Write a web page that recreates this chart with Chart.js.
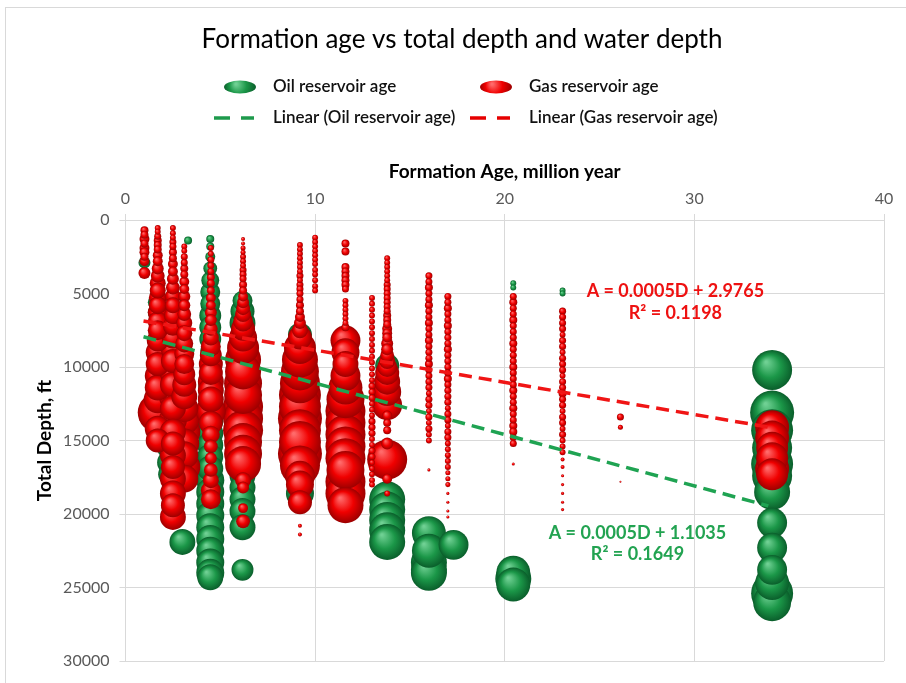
<!DOCTYPE html>
<html>
<head>
<meta charset="utf-8">
<script src="https://cdn.jsdelivr.net/npm/chart.js@4.4.1/dist/chart.umd.min.js"></script>
<style>
  html, body { margin: 0; padding: 0; background: #fff; }
  #wrap { position: relative; width: 906px; height: 683px; }
</style>
</head>
<body>
<div id="wrap"><canvas id="chart"></canvas></div>
<script>
// formation age (million years) of each well column, and [total depth ft, water depth ft] per well
const gasAges = [1.0, 1.7, 2.5, 3.1, 4.5, 6.2, 9.2, 10.0, 11.6, 13.0, 13.8, 16.0, 17.0, 20.45, 23.05, 26.1, 34.1];
const gasWells = [
  [[700,400],[1000,400],[1300,620],[1600,400],[1900,620],[2200,620],[2500,400],[2800,620],[3600,900]],
  [[550,220],[800,220],[1100,310],[1400,400],[1700,400],[2000,400],[2400,620],[2800,620],[3300,900],[3800,1200],[4300,1600],[4800,1600],[5300,2000],[5800,2000],[6300,2500],[6900,2500],[7500,2500],[8200,3000],[9000,3600],[9800,3600],[10600,4200],[11400,4200],[12200,4900],[13100,10000],[14200,4200],[15000,3600]],
  [[550,220],[900,220],[1200,220],[1500,310],[1800,310],[2200,400],[2600,400],[3000,620],[3500,620],[4000,900],[4600,1200],[5200,1600],[5800,1600],[6500,2000],[7200,2500],[8000,3000],[8800,3600],[9600,3600],[10400,4200],[11200,4200],[12000,4900],[12800,4200],[13600,4900],[14400,4200],[15200,3600],[16000,4200],[16800,3600],[17600,4200],[18600,4200],[19400,3600],[20200,4200]],
  [[1800,220],[2100,220],[2500,310],[2900,310],[3300,400],[3700,400],[4200,620],[4700,620],[5200,900],[5800,900],[6400,1200],[7000,1600],[7700,1600],[8400,2000],[9100,2500],[9800,2500],[10500,3000],[11200,3600],[12000,4200],[12800,4900],[13600,5600],[14400,6400],[15200,5600],[16000,4900],[16800,6400],[17600,4900]],
  [[1900,220],[2300,220],[2700,310],[3100,310],[3500,310],[3900,400],[4300,400],[4800,400],[5300,620],[5800,620],[6300,900],[6800,900],[7400,1200],[8000,1600],[8600,2500],[9200,3000],[9800,3600],[10400,3600],[11000,4200],[11600,4200],[12200,4200],[13000,5600],[13800,3600],[14600,2000],[15400,1200],[16200,900],[17000,1200],[17700,1600],[18400,2500],[19000,2500]],
  [[1300,100],[1600,100],[1900,160],[2200,160],[2500,220],[2800,220],[3100,220],[3400,310],[3700,310],[4000,310],[4400,400],[4800,400],[5200,620],[5600,900],[6000,1200],[6400,1600],[6900,2500],[7400,3600],[8000,4900],[8700,6400],[9500,8100],[10300,8100],[11100,9000],[11900,9000],[12700,10000],[13500,10000],[14300,10000],[15100,9000],[15900,9000],[16600,8100],[17700,1600],[18200,900],[19600,620],[20500,1200]],
  [[1700,220],[2000,220],[2300,220],[2600,220],[2900,220],[3200,220],[3500,220],[3800,310],[4100,220],[4400,310],[4700,310],[5000,310],[5400,310],[5800,400],[6200,400],[6600,620],[7000,900],[7500,1600],[8000,3600],[8700,6400],[9500,8100],[10300,9000],[11100,10000],[11900,11000],[12700,11000],[13500,12100],[14300,11000],[15100,11000],[15900,12100],[16700,10000],[17400,5600],[18000,4900],[19200,3600],[20800,100],[21400,100]],
  [[1200,220],[1500,220],[1800,220],[2100,220],[2400,220],[2700,220],[3000,220],[3400,220],[3700,220],[4100,220],[4500,220],[4800,220]],
  [[1600,400],[2150,400],[3200,400],[3500,400],[3800,400],[4100,400],[4400,400],[4700,310],[5500,220],[5800,220],[6100,220],[6400,220],[6700,220],[7000,220],[7300,400],[8200,5600],[9000,4900],[9800,4200],[10600,5600],[11400,7200],[12200,9000],[13000,10000],[13800,10000],[14600,10000],[15400,10000],[16200,10000],[17000,9000],[17800,10000],[18600,10000],[19400,8100]],
  [[5300,220],[5700,220],[6100,220],[6500,220],[6900,220],[7300,220],[7700,220],[8100,220],[8500,220],[8900,220],[9300,220],[9700,220],[10100,220],[10500,220],[10900,220],[11300,310],[11700,310],[12100,310],[12500,220],[12900,220],[13300,220],[13700,310],[14100,310],[14500,310],[14900,220],[15300,220],[15700,310],[16100,310],[16500,220],[16900,220],[17300,220],[17700,220],[18000,220]],
  [[2600,220],[2900,220],[3200,220],[3500,220],[3800,220],[4100,220],[4400,310],[4700,310],[5000,310],[5300,310],[5600,310],[5900,310],[6200,310],[6500,400],[6800,400],[7100,400],[7400,620],[7700,620],[8000,620],[8400,900],[8800,900],[9200,1200],[9600,1600],[10000,2500],[10400,3600],[11000,4200],[11700,4900],[12600,5600],[13300,620],[13800,400],[14300,400],[15200,900],[16300,10000],[17600,620],[18600,220]],
  [[3800,310],[4200,310],[4600,400],[5000,310],[5400,310],[5800,400],[6200,310],[6600,310],[7000,400],[7400,310],[7800,310],[8200,400],[8600,310],[9000,310],[9400,310],[9800,400],[10200,310],[10600,310],[11000,310],[11400,310],[11800,220],[12200,310],[12600,310],[13000,220],[13400,310],[13800,220],[14200,310],[14600,220],[15000,220],[17000,60]],
  [[5200,310],[5600,310],[6000,400],[6400,310],[6800,310],[7200,400],[7600,310],[8000,310],[8400,310],[8800,400],[9200,310],[9600,310],[10000,310],[10400,310],[10800,400],[11200,310],[11600,310],[12000,310],[12400,310],[12800,220],[13200,310],[13600,310],[14000,220],[14400,310],[14800,310],[15200,220],[15600,220],[16000,220],[16400,220],[16800,220],[17200,160],[17600,160],[18000,160],[18600,60],[19200,60],[19800,60],[20200,60]],
  [[5200,310],[5600,400],[6000,310],[6400,310],[6800,400],[7200,310],[7600,310],[8000,310],[8400,400],[8800,310],[9200,310],[9600,310],[10000,400],[10400,310],[10800,310],[11200,310],[11600,400],[12000,310],[12400,310],[12800,400],[13200,310],[13600,310],[14000,400],[14400,400],[14800,310],[15200,310],[16600,60]],
  [[6200,310],[6600,310],[7000,310],[7400,310],[7800,220],[8200,310],[8600,310],[9000,220],[9400,310],[9800,310],[10200,310],[10600,220],[11000,310],[11400,310],[11800,400],[12200,310],[12600,310],[13000,220],[13400,310],[13800,310],[14200,220],[14600,310],[15000,220],[15400,220],[15800,220],[16300,100],[16800,100],[17400,60],[18000,60],[18600,60],[19200,60],[19700,60]],
  [[13400,310],[14100,160],[17800,25]],
  [[14100,7200],[14800,7200],[15500,6400],[16200,6400],[16900,7200],[17300,6400]]
];

const oilAges = [1.0, 1.6, 2.3, 3.0, 3.3, 4.47, 6.17, 9.2, 11.6, 13.8, 16.0, 17.3, 20.45, 23.05, 34.1];
const oilWells = [
  [[2900,900]],
  [[5600,1600],[6300,1600],[10300,1200]],
  [[14500,3600],[15500,3600],[16500,3600],[17300,3000]],
  [[21900,4200]],
  [[1400,400]],
  [[1300,400],[1800,400],[2500,620],[3300,1200],[4100,2000],[4900,2500],[5700,2500],[6500,3000],[7300,3000],[8100,3000],[8900,2500],[9700,2500],[10500,3000],[11300,3600],[12100,3600],[12900,4200],[13700,4200],[14500,4200],[15300,4200],[16100,4200],[16900,4200],[17700,4900],[18500,4900],[19300,4900],[20100,4900],[20900,4900],[21700,4900],[22500,4900],[23300,4900],[24000,4900],[24300,4200]],
  [[5500,2500],[6200,3600],[7000,4200],[7800,3600],[8600,3600],[9400,3600],[10200,3600],[11000,4200],[11800,4200],[12600,4200],[13400,4200],[14200,4200],[15000,4200],[15800,4200],[16600,4200],[17400,4200],[18200,4200],[19000,4200],[19800,4200],[20900,4200],[23800,3000]],
  [[7800,3600],[9700,5600],[11500,6400],[18600,4900]],
  [[10200,4200],[11200,4900]],
  [[9900,3600],[19000,8100],[19700,8100],[20400,8100],[21100,8100],[21900,8100]],
  [[21300,7200],[22500,7200],[23300,8100],[23800,8100],[24000,8100]],
  [[22100,5600]],
  [[4300,220],[4600,220],[24000,7200],[24400,8100],[24800,7200]],
  [[4800,220],[5000,220]],
  [[10200,10000],[13100,12100],[14300,11000],[15500,10000],[16600,11000],[17400,10000],[18500,8100],[20600,5600],[22300,5600],[23800,5600],[24700,7200],[25400,11000],[26000,9000]]
];

// linear trend lines as Excel drew them (end points)
const gasTrendAge = [0.95, 34.1];
const gasTrendDepth = [6870, 14130];
const oilTrendAge = [0.95, 33.9];
const oilTrendDepth = [7940, 19450];

const gasFitText = ['A = 0.0005D + 2.9765', 'R\u00b2 = 0.1198'];
const oilFitText = ['A = 0.0005D + 1.1035', 'R\u00b2 = 0.1649'];

const xTicks = [0, 10, 20, 30, 40];
const yTicks = [0, 5000, 10000, 15000, 20000, 25000, 30000];

const RED = '#e60000', GREEN = '#1e9a4c';

function toPoints(ages, wells) {
  const pts = [];
  ages.forEach((age, i) => {
    wells[i].forEach(([depth, water]) => pts.push({ x: age, y: depth, r: Math.sqrt(water) / 5 }));
  });
  // big bubbles first, small ones end up on top (like Excel)
  return pts.sort((a, b) => b.r - a.r);
}

function ball(light, mid, dark) {
  return function (ctx) {
    const p = ctx.raw, chart = ctx.chart;
    if (!p || !chart.scales.x || !chart.scales.y) return mid;
    const x = chart.scales.x.getPixelForValue(p.x);
    const y = chart.scales.y.getPixelForValue(p.y);
    if (!isFinite(x) || !isFinite(y) || !isFinite(p.r)) return mid;
    const g = chart.ctx.createRadialGradient(x - p.r * 0.3, y - p.r * 0.4, p.r * 0.05, x, y, p.r);
    g.addColorStop(0, light);
    g.addColorStop(0.55, mid);
    g.addColorStop(1, dark);
    return g;
  };
}

const redBall = ball('#ff6a6a', '#f00000', '#9c0000');
const greenBall = ball('#6fd093', '#1b9748', '#0a5e2b');

function line(ages, depths) {
  return ages.map((a, i) => ({ x: a, y: depths[i] }));
}

const FONT = 'Lato';
Chart.defaults.font.family = FONT;

// title, legend, frame and trend line equations
const deco = {
  id: 'deco',
  beforeDraw(chart) {
    const c = chart.ctx;
    c.save();
    c.strokeStyle = '#d9d9d9';
    c.lineWidth = 1;
    c.strokeRect(5.5, 7.5, 940, 700);
    c.restore();
  },
  afterDatasetsDraw(chart) {
    const c = chart.ctx, xs = chart.scales.x, ys = chart.scales.y;
    c.save();
    c.textAlign = 'center';
    c.textBaseline = 'middle';
    c.font = 'bold 18px ' + FONT;
    c.fillStyle = '#ee1111';
    c.fillText(gasFitText[0], xs.getPixelForValue(29.0), ys.getPixelForValue(4850));
    c.fillText(gasFitText[1], xs.getPixelForValue(29.0), ys.getPixelForValue(6330));
    c.fillStyle = '#22a351';
    c.fillText(oilFitText[0], xs.getPixelForValue(27.0), ys.getPixelForValue(21330));
    c.fillText(oilFitText[1], xs.getPixelForValue(27.0), ys.getPixelForValue(22750));
    c.restore();
  },
  afterDraw(chart) {
    const c = chart.ctx;
    c.save();
    c.fillStyle = '#000';
    c.textAlign = 'center';
    c.textBaseline = 'middle';
    c.font = '26px ' + FONT;
    c.fillText('Formation age vs total depth and water depth', 462, 40);

    const items = [
      { x: 240, y: 87, kind: 'ball', fill: ['#6fd093', '#1b9748', '#0a5e2b'], text: 'Oil reservoir age' },
      { x: 496, y: 87, kind: 'ball', fill: ['#ff6a6a', '#f00000', '#9c0000'], text: 'Gas reservoir age' },
      { x: 240, y: 118, kind: 'dash', fill: GREEN, text: 'Linear (Oil reservoir age)' },
      { x: 496, y: 118, kind: 'dash', fill: RED, text: 'Linear (Gas reservoir age)' }
    ];
    c.textAlign = 'left';
    c.font = '600 17px ' + FONT;
    items.forEach(it => {
      if (it.kind === 'ball') {
        const g = c.createRadialGradient(it.x - 4, it.y - 3, 1, it.x, it.y, 16);
        g.addColorStop(0, it.fill[0]);
        g.addColorStop(0.5, it.fill[1]);
        g.addColorStop(1, it.fill[2]);
        c.fillStyle = g;
        c.beginPath();
        c.ellipse(it.x, it.y, 16, 6.5, 0, 0, Math.PI * 2);
        c.fill();
      } else {
        c.strokeStyle = it.fill;
        c.lineWidth = 3.5;
        c.beginPath();
        c.moveTo(it.x - 26, it.y); c.lineTo(it.x - 10, it.y);
        c.moveTo(it.x + 1, it.y); c.lineTo(it.x + 14, it.y);
        c.stroke();
      }
      c.fillStyle = '#111';
      c.fillText(it.text, it.x + 33, it.y);
    });
    c.restore();
  }
};

const gridStyle = { color: '#d9d9d9', lineWidth: 1, tickLength: 6 };

new Chart(document.getElementById('chart'), {
  type: 'bubble',
  data: {
    datasets: [
      {
        type: 'line', label: 'Linear (Oil reservoir age)', data: line(oilTrendAge, oilTrendDepth),
        borderColor: '#1fa352', borderWidth: 3.5, borderDash: [13, 7], pointRadius: 0, fill: false, order: 0
      },
      {
        type: 'line', label: 'Linear (Gas reservoir age)', data: line(gasTrendAge, gasTrendDepth),
        borderColor: '#f01515', borderWidth: 3.5, borderDash: [13, 7], pointRadius: 0, fill: false, order: 0
      },
      { label: 'Gas reservoir age', data: toPoints(gasAges, gasWells), backgroundColor: redBall, borderWidth: 0, order: 1 },
      { label: 'Oil reservoir age', data: toPoints(oilAges, oilWells), backgroundColor: greenBall, borderWidth: 0, order: 2 }
    ]
  },
  options: {
    responsive: true,
    maintainAspectRatio: false,
    animation: false,
    events: [],
    devicePixelRatio: 1,
    layout: { padding: { top: 160, left: 0, right: 19, bottom: 17 } },
    plugins: { legend: { display: false }, title: { display: false }, tooltip: { enabled: false } },
    scales: {
      x: {
        type: 'linear', position: 'top', min: 0, max: 40,
        afterBuildTicks: s => { s.ticks = xTicks.map(v => ({ value: v })); },
        ticks: { color: '#595959', font: { size: 16 }, padding: 6, callback: v => String(v) },
        grid: gridStyle,
        border: { color: '#d9d9d9' },
        title: { display: true, text: 'Formation Age, million year', color: '#000', font: { size: 19, weight: 'bold' }, padding: { top: 0, bottom: 0 } },
        afterFit: s => { s.height = 60; }
      },
      y: {
        type: 'linear', reverse: true, min: 0, max: 30000,
        afterBuildTicks: s => { s.ticks = yTicks.map(v => ({ value: v })); },
        ticks: { color: '#595959', font: { size: 16 }, padding: 10, callback: v => String(v) },
        grid: gridStyle,
        border: { color: '#d9d9d9' },
        title: { display: true, text: 'Total Depth, ft', color: '#000', font: { size: 19, weight: 'bold' }, padding: { top: 33, bottom: 0 } },
        afterFit: s => { s.width = 125.5; }
      }
    }
  },
  plugins: [deco]
});
</script>
</body>
</html>
